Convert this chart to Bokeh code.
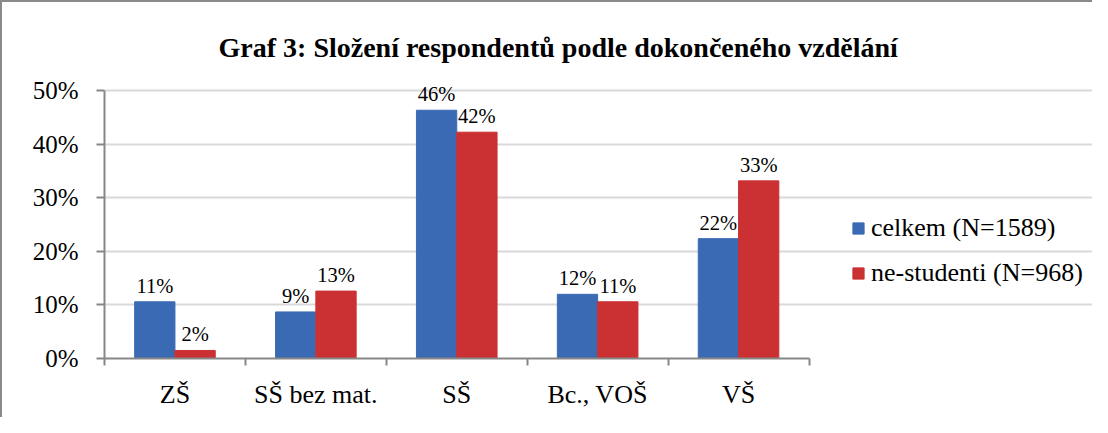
from bokeh.plotting import figure
from bokeh.models import (ColumnDataSource, Range1d, FixedTicker, NumeralTickFormatter,
                          Legend, LegendItem)
from bokeh.core.properties import value
from bokeh.embed import file_html
from bokeh.resources import INLINE

categories = ["ZŠ", "SŠ bez mat.", "SŠ", "Bc., VOŠ", "VŠ"]
series_names = ["celkem (N=1589)", "ne-studenti (N=968)"]
celkem = [10.6, 8.7, 46.4, 12.0, 22.4]
nestudenti = [1.5, 12.6, 42.3, 10.6, 33.2]
y_ticks = [0, 10, 20, 30, 40, 50]
title_text = "Graf 3: Složení respondentů podle dokončeného vzdělání"

BLUE = "#3B6AB4"
RED = "#CB3132"
AXIS = "#878787"
GRID = "#D9D9D9"
FONT = "Liberation Serif"

n = len(categories)
bar_w = 0.286
off = 0.143

p = figure(width=1092, height=417, output_backend="svg", toolbar_location=None,
           x_range=Range1d(0, 990 / 140.9), y_range=Range1d(0, 348 / 523),
           min_border_left=102, min_border_right=0, min_border_top=0,
           min_border_bottom=61)
p.outline_line_color = None
p.styles = {"border-left": "2px solid #8a8a8a", "border-top": "2px solid #8a8a8a"}

src1 = ColumnDataSource(dict(x=[i + 0.5 - off for i in range(n)],
                             top=[v / 100 for v in celkem],
                             lab=[f"{int(v + 0.5)}%" for v in celkem]))
src2 = ColumnDataSource(dict(x=[i + 0.5 + off for i in range(n)],
                             top=[v / 100 for v in nestudenti],
                             lab=[f"{int(v + 0.5)}%" for v in nestudenti]))

r1 = p.vbar(x="x", top="top", width=bar_w, source=src1, fill_color=BLUE, line_color=BLUE)
r2 = p.vbar(x="x", top="top", width=bar_w, source=src2, fill_color=RED, line_color=RED)

for s in (src1, src2):
    p.text(x="x", y="top", text="lab", source=s, text_align="center",
           text_baseline="alphabetic", y_offset=-16, text_font=value(FONT),
           text_font_size="20.5px", text_color="black")

# title
p.text(x=[n * 0.5 + 0.72], y=[0.582], text=[title_text], text_align="center",
       text_baseline="alphabetic", text_font=value(FONT), text_font_style="bold",
       text_font_size="28px", text_color="black")

# y axis
yt = [t / 100 for t in y_ticks]
p.yaxis.ticker = FixedTicker(ticks=yt)
p.yaxis.formatter = NumeralTickFormatter(format="0%")
p.yaxis.bounds = (0, max(yt))
p.yaxis.axis_line_color = AXIS
p.yaxis.major_tick_line_color = AXIS
p.yaxis.major_tick_out = 8
p.yaxis.major_tick_in = 0
p.yaxis.minor_tick_line_color = None
p.yaxis.major_label_text_font = FONT
p.yaxis.major_label_text_font_size = "25px"
p.yaxis.major_label_text_color = "black"
p.yaxis.major_label_standoff = 18
p.yaxis.axis_line_width = 2
p.yaxis.major_tick_line_width = 2

# x axis
centers = [i + 0.5 for i in range(n)]
p.xaxis.ticker = FixedTicker(ticks=centers, minor_ticks=list(range(n + 1)))
p.xaxis.major_label_overrides = {c: lab for c, lab in zip(centers, categories)}
p.xaxis.bounds = (0, n)
p.xaxis.axis_line_color = AXIS
p.xaxis.axis_line_width = 2
p.xaxis.major_tick_line_color = None
p.xaxis.major_tick_out = 7
p.xaxis.major_tick_in = 0
p.xaxis.minor_tick_line_color = AXIS
p.xaxis.minor_tick_line_width = 2
p.xaxis.minor_tick_out = 7
p.xaxis.minor_tick_in = 0
p.xaxis.major_label_text_font = FONT
p.xaxis.major_label_text_font_size = "26px"
p.xaxis.major_label_text_color = "black"
p.xaxis.major_label_standoff = 14

p.xgrid.grid_line_color = None
p.ygrid.ticker = FixedTicker(ticks=yt)
p.ygrid.grid_line_color = GRID
p.ygrid.grid_line_width = 2
p.ygrid.bounds = (0, n)

legend = Legend(items=[LegendItem(label=series_names[0], renderers=[r1]),
                       LegendItem(label=series_names[1], renderers=[r2])],
                location=(747, 70), orientation="vertical",
                glyph_width=14, glyph_height=14, label_standoff=6,
                label_text_font=FONT, label_text_font_size="26px",
                label_text_color="black", spacing=15, padding=0, margin=0,
                border_line_color=None, background_fill_alpha=0)
p.add_layout(legend)

open("out.html", "w").write(file_html(p, INLINE))
